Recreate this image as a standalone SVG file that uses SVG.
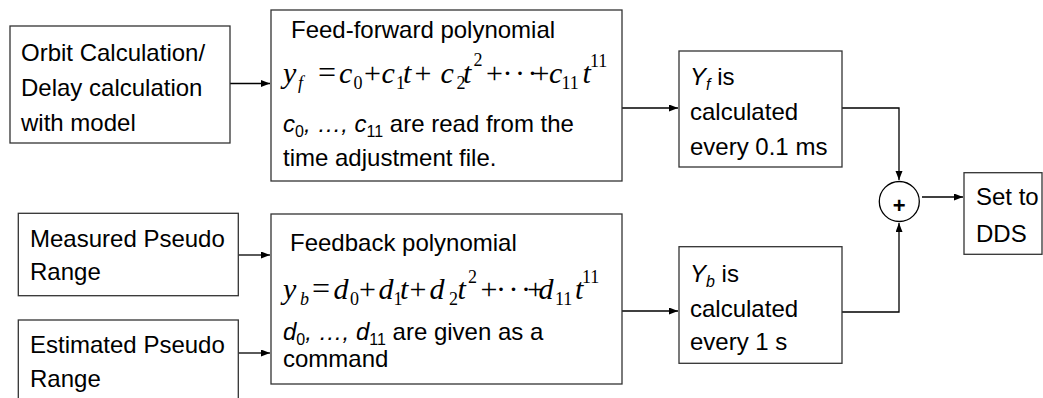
<svg xmlns="http://www.w3.org/2000/svg" width="1043" height="398" viewBox="0 0 1043 398">
<style>
.box{fill:#fff;stroke:#333;stroke-width:1.3}
.t{font-family:"Liberation Sans",Arial,sans-serif;font-size:24px;fill:#000}
.m{font-family:"Liberation Serif","Times New Roman",serif;font-size:30px;fill:#000}
.i{font-style:italic}
.s{font-size:18px}
.op{font-size:32px}
.d{letter-spacing:2.5px}
.ln{fill:none;stroke:#000;stroke-width:1.3}
</style>
<defs>
<marker id="ah" markerUnits="userSpaceOnUse" markerWidth="10" markerHeight="8" refX="9" refY="3.5" orient="auto">
<path d="M0,0 L9,3.5 L0,7 z" fill="#000"/>
</marker>
</defs>
<rect width="1043" height="398" fill="#fff"/>

<g id="connectors">
<path class="ln" d="M230,83.5 H270" marker-end="url(#ah)"/>
<path class="ln" d="M622,108 H678" marker-end="url(#ah)"/>
<path class="ln" d="M842,108 H899 V180" marker-end="url(#ah)"/>
<path class="ln" d="M238,255 H270" marker-end="url(#ah)"/>
<path class="ln" d="M238,353 H270" marker-end="url(#ah)"/>
<path class="ln" d="M622,311 H678" marker-end="url(#ah)"/>
<path class="ln" d="M842,312 H899 V223" marker-end="url(#ah)"/>
<path class="ln" d="M922,197 H963" marker-end="url(#ah)"/>
</g>

<g id="orbit">
<rect class="box" x="10" y="26" width="220" height="117"/>
<text class="t" x="21" y="61">Orbit Calculation/</text>
<text class="t" x="21" y="96">Delay calculation</text>
<text class="t" x="21" y="131">with model</text>
</g>

<g id="feedforward">
<rect class="box" x="271" y="10" width="351" height="171"/>
<text class="t" x="291" y="38">Feed-forward polynomial</text>
<text class="m"><tspan class="i" x="283" y="83">y</tspan><tspan class="i s" x="298" y="89">f</tspan><tspan class="op" x="318" y="83">=</tspan><tspan class="i" x="339" y="83">c</tspan><tspan class="s" x="353.5" y="89">0</tspan><tspan x="364" y="83">+</tspan><tspan class="i" x="381.5" y="83">c</tspan><tspan class="s" x="396" y="89">1</tspan><tspan class="i" x="403" y="83">t</tspan><tspan x="414.5" y="83">+</tspan><tspan class="i" x="440.5" y="83">c</tspan><tspan class="s" x="456.5" y="89">2</tspan><tspan class="i" x="463" y="83">t</tspan><tspan class="s" x="473.5" y="66">2</tspan><tspan x="486" y="83">+</tspan><tspan class="d" x="502.5" y="83">···</tspan><tspan x="532.5" y="83">+</tspan><tspan class="i" x="549" y="83">c</tspan><tspan class="s" x="561.5" y="89">11</tspan><tspan class="i" x="582.5" y="83">t</tspan><tspan class="s" x="590" y="67">11</tspan></text>
<text class="t" x="283" y="132"><tspan class="i">c</tspan><tspan font-size="16" dy="5">0</tspan><tspan class="i" dy="-5">, …, c</tspan><tspan font-size="16" dy="5">11</tspan><tspan dy="-5"> are read from the</tspan></text>
<text class="t" x="283" y="166">time adjustment file.</text>
</g>

<g id="yf">
<rect class="box" x="679" y="51" width="163" height="116"/>
<text class="t" x="690" y="85"><tspan class="i">Y</tspan><tspan class="i" font-size="16" dy="5">f</tspan><tspan dy="-5"> is</tspan></text>
<text class="t" x="690" y="120">calculated</text>
<text class="t" x="690" y="155">every 0.1 ms</text>
</g>

<g id="sum">
<circle cx="899.3" cy="201.5" r="20" fill="#fff" stroke="#000" stroke-width="1.3"/>
<text x="899.3" y="213" text-anchor="middle" font-family="Liberation Sans, Arial, sans-serif" font-size="22" font-weight="bold">+</text>
</g>

<g id="dds">
<rect class="box" x="964" y="172.7" width="78" height="81.6"/>
<text class="t" x="976" y="205">Set to</text>
<text class="t" x="976" y="242">DDS</text>
</g>

<g id="measured">
<rect class="box" x="18.3" y="213.3" width="220" height="82.4"/>
<text class="t" x="30" y="247">Measured Pseudo</text>
<text class="t" x="30" y="280">Range</text>
</g>

<g id="estimated">
<rect class="box" x="18.3" y="320" width="220" height="110"/>
<text class="t" x="30" y="353">Estimated Pseudo</text>
<text class="t" x="30" y="387">Range</text>
</g>

<g id="feedback">
<rect class="box" x="271" y="214" width="351" height="170"/>
<text class="t" x="290" y="251">Feedback polynomial</text>
<text class="m"><tspan class="i" x="283" y="299">y</tspan><tspan class="i s" x="300" y="305">b</tspan><tspan class="op" x="312" y="299">=</tspan><tspan class="i" x="333.5" y="299">d</tspan><tspan class="s" x="350" y="305">0</tspan><tspan x="359" y="299">+</tspan><tspan class="i" x="378.5" y="299">d</tspan><tspan class="s" x="393.5" y="305">1</tspan><tspan class="i" x="400" y="299">t</tspan><tspan x="409.5" y="299">+</tspan><tspan class="i" x="429.5" y="299">d</tspan><tspan class="s" x="449" y="305">2</tspan><tspan class="i" x="457.5" y="299">t</tspan><tspan class="s" x="468" y="283">2</tspan><tspan x="480.5" y="299">+</tspan><tspan class="d" x="496" y="299">···</tspan><tspan x="527" y="299">+</tspan><tspan class="i" x="538.5" y="299">d</tspan><tspan class="s" x="555" y="305">11</tspan><tspan class="i" x="575" y="299">t</tspan><tspan class="s" x="582" y="283">11</tspan></text>
<text class="t" x="283" y="340"><tspan class="i">d</tspan><tspan font-size="16" dy="5">0</tspan><tspan class="i" dy="-5">, …, d</tspan><tspan font-size="16" dy="5">11</tspan><tspan dy="-5"> are given as a</tspan></text>
<text class="t" x="283" y="367">command</text>
</g>

<g id="yb">
<rect class="box" x="679" y="246.7" width="163" height="116.6"/>
<text class="t" x="690" y="282"><tspan class="i">Y</tspan><tspan class="i" font-size="16" dy="5">b</tspan><tspan dy="-5"> is</tspan></text>
<text class="t" x="690" y="317">calculated</text>
<text class="t" x="690" y="350">every 1 s</text>
</g>
</svg>
